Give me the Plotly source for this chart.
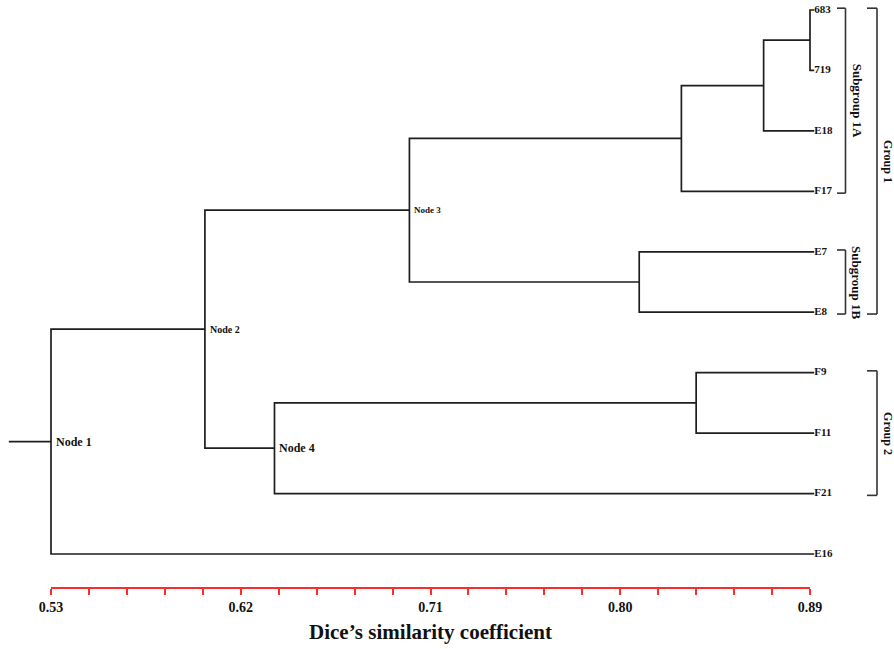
import plotly.graph_objects as go

# ---- data ----
leaves = ["683", "719", "E18", "F17", "E7", "E8", "F9", "F11", "F21", "E16"]
leaf_sim = 0.892
# merges: (left child, right child, similarity); clusters numbered after leaves (10, 11, ...)
merge_left = [0, 10, 11, 4, 12, 6, 15, 14, 17]
merge_right = [1, 2, 3, 5, 13, 7, 8, 16, 9]
merge_sim = [0.890, 0.868, 0.829, 0.809, 0.700, 0.836, 0.636, 0.603, 0.530]
node_labels = {14: "Node 3", 16: "Node 4", 17: "Node 2", 18: "Node 1"}
node_label_size = {14: 9, 16: 12, 17: 10, 18: 12}
root_sim = 0.51

tick_vals = [0.53, 0.62, 0.71, 0.80, 0.89]
tick_text = ["0.53", "0.62", "0.71", "0.80", "0.89"]

brackets = [  # (first leaf, last leaf, label, column, font size)
    (0, 3, "Subgroup 1A", 0, 13),
    (4, 5, "Subgroup 1B", 0, 13),
    (0, 5, "Group 1", 1, 12),
    (6, 8, "Group 2", 1, 12),
]

# ---- build dendrogram geometry ----
pos_x = {i: leaf_sim for i in range(len(leaves))}
pos_y = {i: float(i) for i in range(len(leaves))}
xs, ys = [], []
for k, (l, r, s) in enumerate(zip(merge_left, merge_right, merge_sim)):
    cid = len(leaves) + k
    xs += [pos_x[l], s, s, pos_x[r], None]
    ys += [pos_y[l], pos_y[l], pos_y[r], pos_y[r], None]
    pos_x[cid] = s
    pos_y[cid] = (pos_y[l] + pos_y[r]) / 2
root = len(leaves) + len(merge_sim) - 1
xs += [root_sim, pos_x[root], None]
ys += [pos_y[root], pos_y[root], None]

SERIF = "Liberation Serif"
LINE = "#1e1e1e"

fig = go.Figure()
fig.add_trace(go.Scatter(x=xs, y=ys, mode="lines", line=dict(color=LINE, width=1.7),
                         hoverinfo="skip", showlegend=False))
fig.add_trace(go.Scatter(x=[leaf_sim] * len(leaves), y=list(range(len(leaves))), mode="text",
                         text=leaves, textposition="middle right",
                         textfont=dict(family=SERIF, size=11, color="#111", weight="bold"),
                         cliponaxis=False, hoverinfo="skip", showlegend=False))
# axis-only trace
fig.add_trace(go.Scatter(x=[tick_vals[0], tick_vals[-1]], y=[0, 0], xaxis="x2", yaxis="y2",
                         mode="markers", marker=dict(opacity=0), hoverinfo="skip", showlegend=False))

annotations = []
for cid, txt in node_labels.items():
    annotations.append(dict(x=pos_x[cid], y=pos_y[cid], xref="x", yref="y", text=txt,
                            showarrow=False, xanchor="left", xshift=3,
                            font=dict(family=SERIF, size=node_label_size[cid], color="#111", weight="bold")))

W, H = 894, 649
shapes = []
col_x = [(837 / W, 845.5 / W, 857 / W), (867 / W, 877 / W, 888 / W)]
for a, b, txt, c, fs in brackets:
    x0, x1, xt = col_x[c]
    y0, y1 = a - 0.03, b + 0.03
    path_pts = [(x0, y0), (x1, y0), (x1, y1), (x0, y1)]
    for (px0, py0), (px1, py1) in zip(path_pts[:-1], path_pts[1:]):
        shapes.append(dict(type="line", xref="paper", yref="y", x0=px0, x1=px1, y0=py0, y1=py1,
                           line=dict(color="#333", width=1.6)))
    annotations.append(dict(x=xt, y=(a + b) / 2, xref="paper", yref="y", text=txt, showarrow=False,
                            textangle=90, xanchor="center", yanchor="middle",
                            font=dict(family=SERIF, size=fs, color="#111", weight="bold")))

px_per = (554 - 10) / 9.0
y_top = -10 / px_per
y_bot = y_top + H / px_per
xa = 0.53 - 51 * (0.36 / 759)
xb = xa + W * (0.36 / 759)

fig.update_layout(
    width=W, height=H, autosize=False, margin=dict(l=0, r=0, t=0, b=0, autoexpand=False),
    paper_bgcolor="white", plot_bgcolor="rgba(0,0,0,0)",
    xaxis=dict(domain=[0, 1], range=[xa, xb], visible=False, fixedrange=True, automargin=False),
    yaxis=dict(domain=[0, 1], range=[y_bot, y_top], visible=False, fixedrange=True, automargin=False),
    xaxis2=dict(domain=[51 / W, 810 / W], range=[tick_vals[0], tick_vals[-1]], anchor="y2",
                automargin=False,
                showline=True, linecolor="#ff2a2a", linewidth=2, showgrid=False, zeroline=False,
                ticks="outside", ticklen=6, tickwidth=1.5, tickcolor="#ff2a2a",
                tickvals=tick_vals, ticktext=tick_text, fixedrange=True,
                tickfont=dict(family=SERIF, size=14, color="#111", weight="bold"),
                minor=dict(ticks="outside", dtick=0.018, tick0=0.53, ticklen=6, tickwidth=1.5,
                           tickcolor="#ff2a2a", showgrid=False),
                title=dict(text="Dice’s similarity coefficient", standoff=11,
                           font=dict(family=SERIF, size=21, color="#111", weight="bold"))),
    yaxis2=dict(domain=[1 - 587 / H, 1 - 587 / H + 0.01], anchor="x2", visible=False, range=[0, 1],
                fixedrange=True, automargin=False),
    annotations=annotations, shapes=shapes,
)

post_js = ("document.body.style.margin='0';document.body.style.padding='0';"
           "document.body.style.overflow='hidden';"
           "document.documentElement.style.overflow='hidden';"
           "var gd=document.getElementById('{plot_id}');"
           "Plotly.relayout(gd,{width:894,height:649});")
fig.write_html("out.html", config={"responsive": False, "displayModeBar": False},
               post_script=post_js)
